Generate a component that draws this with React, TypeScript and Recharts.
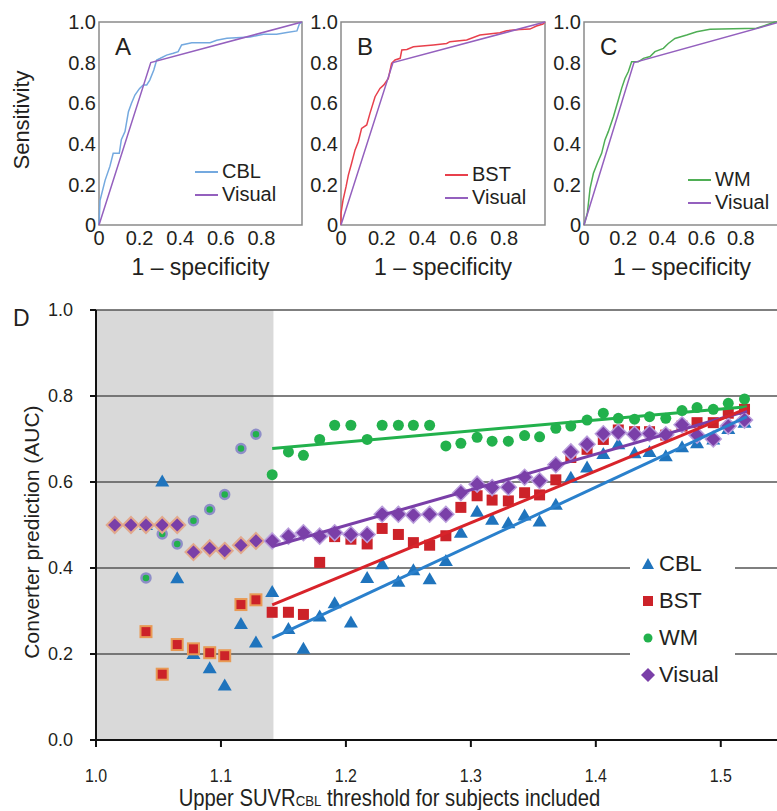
import React from "react";
import {
  LineChart,
  Line,
  ScatterChart,
  Scatter,
  XAxis,
  YAxis,
  ReferenceArea,
  ReferenceLine,
  Legend,
  Label,
} from "recharts";

const FONT = "'Liberation Sans', Arial, Helvetica, sans-serif";
const INK = "#231f20";

// ---- ROC curves, panels A-C ----
const cblFpr = [0, 0.005, 0.03, 0.054, 0.07, 0.1, 0.11, 0.128, 0.145, 0.16, 0.177, 0.2, 0.218, 0.235, 0.25, 0.27, 0.284, 0.3, 0.333, 0.366, 0.39, 0.407, 0.457, 0.547, 0.58, 0.63, 0.744, 0.81, 0.875, 0.925, 0.975, 0.987, 1];
const cblTpr = [0, 0.12, 0.22, 0.29, 0.353, 0.353, 0.42, 0.46, 0.558, 0.6, 0.64, 0.673, 0.69, 0.69, 0.714, 0.764, 0.813, 0.82, 0.837, 0.846, 0.854, 0.887, 0.898, 0.898, 0.91, 0.92, 0.926, 0.94, 0.94, 0.948, 0.956, 0.99, 1];

const bstFpr = [0, 0, 0.01, 0.025, 0.036, 0.052, 0.069, 0.085, 0.101, 0.126, 0.142, 0.167, 0.191, 0.21, 0.232, 0.248, 0.265, 0.29, 0.298, 0.323, 0.355, 0.453, 0.518, 0.534, 0.616, 0.681, 0.779, 0.812, 0.877, 0.926, 0.958, 0.99, 1];
const bstTpr = [0, 0.058, 0.123, 0.19, 0.246, 0.304, 0.37, 0.41, 0.476, 0.493, 0.55, 0.632, 0.673, 0.69, 0.722, 0.796, 0.813, 0.821, 0.862, 0.865, 0.878, 0.887, 0.894, 0.903, 0.911, 0.936, 0.947, 0.957, 0.963, 0.965, 0.98, 0.99, 1];

const wmFpr = [0, 0.005, 0.017, 0.031, 0.048, 0.068, 0.09, 0.107, 0.124, 0.15, 0.175, 0.192, 0.209, 0.226, 0.243, 0.277, 0.303, 0.337, 0.362, 0.405, 0.43, 0.464, 0.524, 0.575, 0.643, 0.88, 0.93, 0.974, 1];
const wmTpr = [0, 0.016, 0.058, 0.18, 0.255, 0.304, 0.353, 0.419, 0.46, 0.533, 0.616, 0.673, 0.722, 0.755, 0.804, 0.804, 0.821, 0.83, 0.854, 0.87, 0.894, 0.919, 0.936, 0.952, 0.964, 0.969, 0.985, 1, 1];

const visualFpr = [0, 0.255, 1];
const visualTpr = [0, 0.8, 1];

const rocXTicks = [0, 0.2, 0.4, 0.6, 0.8];
const rocYTicks = [0, 0.2, 0.4, 0.6, 0.8, 1];

// ---- panel D: AUC vs upper SUVR threshold ----
const thresholds = [1.015, 1.028, 1.04, 1.053, 1.065, 1.078, 1.091, 1.103, 1.116, 1.128, 1.141, 1.154, 1.166, 1.179, 1.191, 1.204, 1.217, 1.229, 1.242, 1.254, 1.267, 1.28, 1.292, 1.305, 1.317, 1.33, 1.343, 1.355, 1.368, 1.38, 1.393, 1.406, 1.418, 1.431, 1.443, 1.456, 1.469, 1.481, 1.494, 1.506, 1.519];
const cblAuc = [null, null, 0.5, 0.601, 0.376, 0.2, 0.167, 0.127, 0.27, 0.227, 0.344, 0.258, 0.212, 0.287, 0.318, 0.273, 0.377, 0.409, 0.368, 0.395, 0.374, 0.416, 0.482, 0.531, 0.512, 0.504, 0.522, 0.508, 0.547, 0.61, 0.634, 0.665, 0.688, 0.667, 0.67, 0.66, 0.681, 0.69, 0.699, 0.723, 0.738];
const bstAuc = [null, null, 0.252, 0.153, 0.222, 0.212, 0.203, 0.196, 0.315, 0.326, 0.297, 0.297, 0.292, 0.413, 0.473, 0.467, 0.456, 0.492, 0.478, 0.459, 0.453, 0.475, 0.541, 0.568, 0.558, 0.556, 0.575, 0.57, 0.605, 0.657, 0.676, 0.699, 0.721, 0.717, 0.717, 0.709, 0.73, 0.738, 0.738, 0.76, 0.769];
const wmAuc = [null, null, 0.377, 0.479, 0.456, 0.51, 0.536, 0.571, 0.678, 0.711, 0.617, 0.67, 0.662, 0.699, 0.732, 0.732, 0.699, 0.732, 0.732, 0.732, 0.732, 0.684, 0.69, 0.704, 0.695, 0.695, 0.708, 0.705, 0.725, 0.73, 0.744, 0.76, 0.748, 0.746, 0.752, 0.748, 0.766, 0.773, 0.769, 0.783, 0.793];
const visualAuc = [0.5, 0.5, 0.5, 0.5, 0.5, 0.437, 0.446, 0.44, 0.453, 0.463, 0.463, 0.474, 0.482, 0.474, 0.482, 0.478, 0.478, 0.525, 0.525, 0.523, 0.525, 0.525, 0.575, 0.595, 0.587, 0.588, 0.611, 0.603, 0.64, 0.67, 0.688, 0.712, 0.715, 0.711, 0.713, 0.71, 0.733, 0.709, 0.7, 0.73, 0.744];

// fitted trend lines, read at their two ends
const trendX = [1.141, 1.521];
const cblTrend = [0.237, 0.752];
const bstTrend = [0.314, 0.771];
const wmTrend = [0.678, 0.775];
const visualTrend = [0.45, 0.765];

const shadeEnd = 1.142;
const dXTicks = [1.0, 1.1, 1.2, 1.3, 1.4, 1.5];
const dYTicks = [0, 0.2, 0.4, 0.6, 0.8, 1.0];
const dLegendOrder = ["CBL", "BST", "WM", "Visual"];

const COLORS = {
  cblRoc: "#74a9df",
  bstRoc: "#e8404c",
  wmRoc: "#4fae55",
  visualRoc: "#9460be",
  cbl: "#1f74bd",
  bst: "#cc2229",
  wm: "#22b14c",
  visual: "#7a3fa8",
};

const zip = (xs: number[], ys: (number | null)[]) =>
  xs.map((x, i) => ({ x, y: ys[i] })).filter((p) => p.y !== null);

const fmtRoc = (v: number) => (v === 0 ? "0" : v.toFixed(1));

// keep legend rows in the order given, not alphabetical
const ordered = (payload: any[] = [], order: string[]) =>
  order.map((n) => payload.find((p) => p.value === n)).filter(Boolean);

const makeRocLegend = (order: string[]) => (props: any) => (
  <div style={{ fontFamily: FONT, color: INK }}>
    {ordered(props.payload, order).map((p: any) => (
      <div key={p.value} style={{ display: "flex", alignItems: "center", height: 23, fontSize: 20 }}>
        <span style={{ display: "inline-block", width: 23, borderTop: `2px solid ${p.color}`, marginRight: 4 }} />
        <span>{p.value}</span>
      </div>
    ))}
  </div>
);

interface RocProps {
  left: number;
  boxWidth: number;
  letter: string;
  name: string;
  color: string;
  fpr: number[];
  tpr: number[];
  legendLeft: number;
  legendTop: number;
}

function RocPanel({ left, boxWidth, letter, name, color, fpr, tpr, legendLeft, legendTop }: RocProps) {
  const ml = 10;
  const yw = 50;
  const chartLeft = left - ml - yw;
  return (
    <>
      <div style={{ position: "absolute", left: chartLeft, top: 0 }}>
        <LineChart width={ml + yw + boxWidth + 4} height={285} margin={{ top: 22, right: 4, left: ml, bottom: 0 }}>
          <XAxis
            type="number"
            dataKey="x"
            domain={[0, 1]}
            ticks={rocXTicks}
            tickFormatter={fmtRoc}
            axisLine={false}
            tickLine={false}
            tickSize={0}
            tickMargin={6}
            height={60}
            tick={{ fontSize: 20, fill: INK, fontFamily: FONT }}
          >
            <Label value="1 – specificity" position="insideBottom" offset={10} style={{ fontSize: 23, fill: INK, fontFamily: FONT }} />
          </XAxis>
          <YAxis
            type="number"
            dataKey="y"
            domain={[0, 1]}
            ticks={rocYTicks}
            tickFormatter={fmtRoc}
            axisLine={false}
            tickLine={false}
            tickSize={0}
            tickMargin={3}
            width={yw}
            tick={{ fontSize: 20, fill: INK, fontFamily: FONT }}
          />
          <ReferenceArea x1={0} x2={1} y1={0} y2={1} fill="none" stroke="#8a8a8a" strokeWidth={1.5} />
          <Line data={zip(fpr, tpr)} dataKey="y" name={name} stroke={color} strokeWidth={1.5} dot={false} type="linear" isAnimationActive={false} />
          <Line data={zip(visualFpr, visualTpr)} dataKey="y" name="Visual" stroke={COLORS.visualRoc} strokeWidth={1.5} dot={false} type="linear" isAnimationActive={false} />
          <Legend
            layout="vertical"
            align="center"
            verticalAlign="middle"
            content={makeRocLegend([name, "Visual"])}
            wrapperStyle={{ left: legendLeft - chartLeft, top: legendTop, width: 110 }}
          />
        </LineChart>
      </div>
      <div style={{ position: "absolute", left: left + 16, top: 35, fontSize: 24, lineHeight: "24px" }}>{letter}</div>
    </>
  );
}

// ---- markers for panel D ----
const inShade = (p: any) => p && p.x < shadeEnd - 0.005;

const TriangleMark = (props: any) => {
  const { cx, cy } = props;
  return <polygon points={`${cx},${cy - 7} ${cx + 7},${cy + 5} ${cx - 7},${cy + 5}`} fill={COLORS.cbl} />;
};
const SquareMark = (props: any) => {
  const { cx, cy, payload } = props;
  const halo = inShade(payload);
  return (
    <rect x={cx - 5.5} y={cy - 5.5} width={11} height={11} fill={COLORS.bst}
      stroke={halo ? "#e89a55" : "none"} strokeWidth={halo ? 2 : 0} />
  );
};
const CircleMark = (props: any) => {
  const { cx, cy, payload } = props;
  const halo = inShade(payload);
  return <circle cx={cx} cy={cy} r={halo ? 4.5 : 5.5} fill={COLORS.wm} stroke={halo ? "#8e8ec8" : "none"} strokeWidth={halo ? 2.5 : 0} />;
};
const DiamondMark = (props: any) => {
  const { cx, cy, payload } = props;
  const halo = inShade(payload);
  return (
    <polygon points={`${cx},${cy - 8} ${cx + 8},${cy} ${cx},${cy + 8} ${cx - 8},${cy}`} fill={COLORS.visual}
      stroke={halo ? "#e2a88c" : "#b99ddb"} strokeWidth={halo ? 2 : 1.5} />
  );
};
const NoMark = () => <g />;

const legendMarks: Record<string, (c: number) => React.ReactNode> = {
  CBL: (c) => <polygon points={`${c},${c - 6} ${c + 6},${c + 5} ${c - 6},${c + 5}`} fill={COLORS.cbl} />,
  BST: (c) => <rect x={c - 5} y={c - 5} width={10} height={10} fill={COLORS.bst} />,
  WM: (c) => <circle cx={c} cy={c} r={4.5} fill={COLORS.wm} />,
  Visual: (c) => <polygon points={`${c},${c - 7} ${c + 7},${c} ${c},${c + 7} ${c - 7},${c}`} fill={COLORS.visual} />,
};

const DLegend = (props: any) => (
  <div style={{ fontFamily: FONT, color: INK, background: "#fff", paddingLeft: 10 }}>
    {ordered(props.payload, dLegendOrder).map((p: any) => (
      <div key={p.value} style={{ display: "flex", alignItems: "center", height: 37, fontSize: 22 }}>
        <svg width={16} height={16} style={{ marginRight: 3 }}>{legendMarks[p.value](8)}</svg>
        <span>{p.value}</span>
      </div>
    ))}
  </div>
);

// condensed look for the bottom axis (no narrow font installed)
const NarrowTick = (props: any) => {
  const { x, y, payload } = props;
  return (
    <g transform={`translate(${x},${y})`}>
      <text textAnchor="middle" dy="0.71em" fontSize={19} fill={INK} fontFamily={FONT} transform="scale(0.84,1)">
        {Number(payload.value).toFixed(1)}
      </text>
    </g>
  );
};

const XTitle = (props: any) => {
  const { x, y, width, height } = props.viewBox;
  return (
    <g transform={`translate(${x + width / 2 - 47},${y + height - 4}) scale(0.88,1)`}>
      <text x={0} y={0} textAnchor="middle" fontFamily={FONT} fontSize={23} fill={INK}>
        <tspan>Upper SUVR</tspan>
        <tspan fontSize={15}>CBL</tspan>
        <tspan>{" threshold for subjects included"}</tspan>
      </text>
    </g>
  );
};

function PanelD() {
  const cblPts = zip(thresholds, cblAuc);
  const bstPts = zip(thresholds, bstAuc);
  const wmPts = zip(thresholds, wmAuc);
  const visPts = zip(thresholds, visualAuc);
  return (
    <div style={{ position: "absolute", left: 0, top: 290 }}>
      <ScatterChart width={777} height={520} margin={{ top: 20, right: 0, bottom: 0, left: 36 }}>
        <XAxis
          type="number"
          dataKey="x"
          domain={[1, 1.545]}
          allowDataOverflow
          ticks={dXTicks}
          height={70}
          axisLine={{ stroke: "#111", strokeWidth: 2 }}
          tickLine={{ stroke: "#111", strokeWidth: 2 }}
          tickSize={7}
          tickMargin={21}
          tick={NarrowTick}
        >
          <Label content={XTitle} />
        </XAxis>
        <YAxis
          type="number"
          dataKey="y"
          domain={[0, 1]}
          ticks={dYTicks}
          tickFormatter={(v: number) => v.toFixed(1)}
          width={60}
          axisLine={{ stroke: "#111", strokeWidth: 2 }}
          tickLine={{ stroke: "#111", strokeWidth: 2 }}
          tickSize={6}
          tickMargin={17}
          tick={{ fontSize: 18, fill: INK, fontFamily: FONT }}
        />
        <ReferenceArea x1={1} x2={shadeEnd} y1={0} y2={1} fill="#d9d9d9" fillOpacity={1} stroke="none" />
        {dYTicks.filter((v) => v > 0).map((v) => (
          <ReferenceLine key={v} y={v} stroke="#555" strokeWidth={1.5} />
        ))}
        <Scatter name="CBL" data={cblPts} fill={COLORS.cbl} shape={TriangleMark} isAnimationActive={false} />
        <Scatter name="BST" data={bstPts} fill={COLORS.bst} shape={SquareMark} isAnimationActive={false} />
        <Scatter name="WM" data={wmPts} fill={COLORS.wm} shape={CircleMark} isAnimationActive={false} />
        <Scatter name="Visual" data={visPts} fill={COLORS.visual} shape={DiamondMark} isAnimationActive={false} />
        <Scatter name="wm-fit" legendType="none" data={zip(trendX, wmTrend)} shape={NoMark} line={{ stroke: COLORS.wm, strokeWidth: 3 }} isAnimationActive={false} />
        <Scatter name="visual-fit" legendType="none" data={zip(trendX, visualTrend)} shape={NoMark} line={{ stroke: COLORS.visual, strokeWidth: 3 }} isAnimationActive={false} />
        <Scatter name="bst-fit" legendType="none" data={zip(trendX, bstTrend)} shape={NoMark} line={{ stroke: "#d8232a", strokeWidth: 3 }} isAnimationActive={false} />
        <Scatter name="cbl-fit" legendType="none" data={zip(trendX, cblTrend)} shape={NoMark} line={{ stroke: "#2a80cc", strokeWidth: 3 }} isAnimationActive={false} />
        <Legend
          layout="vertical"
          align="center"
          verticalAlign="middle"
          content={DLegend}
          wrapperStyle={{ left: 630, top: 255, width: 105 }}
        />
      </ScatterChart>
    </div>
  );
}

export default function App() {
  return (
    <div
      style={{
        position: "absolute",
        left: 0,
        top: 0,
        width: 777,
        height: 811,
        overflow: "hidden",
        background: "#fff",
        fontFamily: FONT,
        color: INK,
      }}
    >
      <RocPanel left={99} boxWidth={203} letter="A" name="CBL" color={COLORS.cblRoc} fpr={cblFpr} tpr={cblTpr} legendLeft={195} legendTop={160} />
      <RocPanel left={341} boxWidth={204} letter="B" name="BST" color={COLORS.bstRoc} fpr={bstFpr} tpr={bstTpr} legendLeft={445} legendTop={163} />
      <RocPanel left={584} boxWidth={196} letter="C" name="WM" color={COLORS.wmRoc} fpr={wmFpr} tpr={wmTpr} legendLeft={688} legendTop={168} />
      <div
        style={{
          position: "absolute",
          left: 22,
          top: 120,
          fontSize: 22,
          whiteSpace: "nowrap",
          transform: "translate(-50%, -50%) rotate(-90deg)",
        }}
      >
        Sensitivity
      </div>
      <PanelD />
      <div style={{ position: "absolute", left: 13, top: 307, fontSize: 23, lineHeight: "23px" }}>D</div>
      <div
        style={{
          position: "absolute",
          left: 32,
          top: 532,
          fontSize: 21,
          whiteSpace: "nowrap",
          transform: "translate(-50%, -50%) rotate(-90deg)",
        }}
      >
        Converter prediction (AUC)
      </div>
    </div>
  );
}
